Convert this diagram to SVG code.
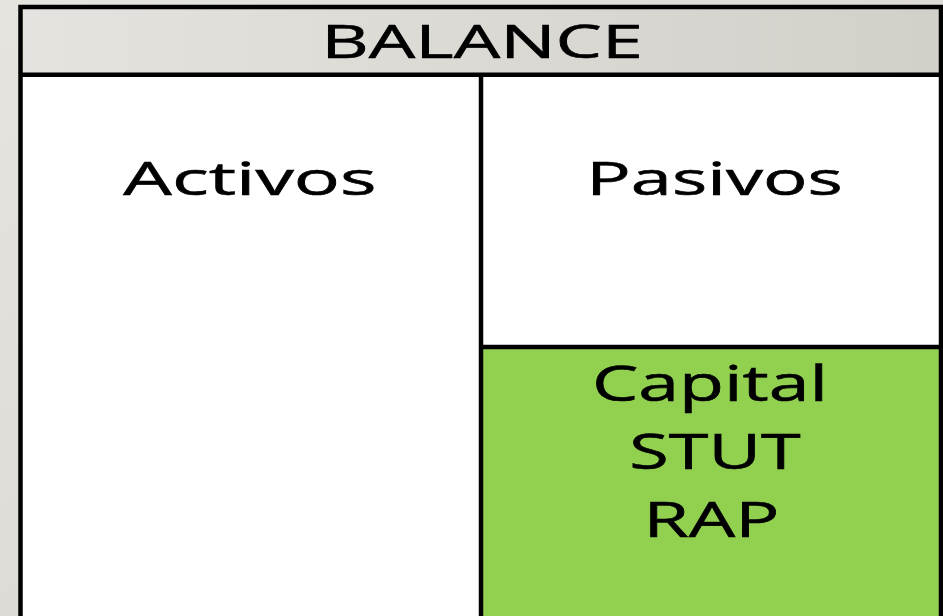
<svg xmlns="http://www.w3.org/2000/svg" width="943" height="616" viewBox="0 0 943 616">
  <defs>
    <linearGradient id="bg" x1="0" y1="0" x2="1" y2="1">
      <stop offset="0" stop-color="#e6e4df"/>
      <stop offset="1" stop-color="#d6d3cd"/>
    </linearGradient>
    <linearGradient id="head" x1="0" y1="0" x2="1" y2="0">
      <stop offset="0" stop-color="#e5e3df"/>
      <stop offset="1" stop-color="#d3d0ca"/>
    </linearGradient>
  </defs>
  <style>
    .grid { fill: none; stroke: #000; stroke-width: 4.5; }
    .lbl { font-family: "Open Sans", "Liberation Sans", sans-serif; fill: #000; stroke: #000; stroke-width: 0.6; text-anchor: middle; }
    .big { font-size: 46px; }
    .cap { font-size: 49px; }
  </style>

  <!-- page background -->
  <rect x="0" y="0" width="943" height="616" fill="url(#bg)"/>

  <!-- title row -->
  <g id="header">
    <rect x="20" y="7" width="921" height="68" fill="url(#head)"/>
    <text class="lbl big" transform="translate(482,58) scale(1.6,1)" x="0" y="0">BALANCE</text>
  </g>

  <!-- assets column -->
  <g id="activos">
    <rect x="20" y="75" width="461" height="545" fill="#fff"/>
    <text class="lbl big" transform="translate(250,195) scale(1.67,1)" x="0" y="0">Activos</text>
  </g>

  <!-- liabilities cell -->
  <g id="pasivos">
    <rect x="481" y="75" width="460" height="272" fill="#fff"/>
    <text class="lbl big" transform="translate(714.5,195) scale(1.61,1)" x="0" y="0">Pasivos</text>
  </g>

  <!-- equity cell -->
  <g id="capital">
    <rect x="481" y="347" width="460" height="273" fill="#92d050"/>
    <text class="lbl cap" transform="translate(710,401) scale(1.5,1)" x="0" y="0">Capital</text>
    <text class="lbl cap" transform="translate(715,469) scale(1.47,1)" x="0" y="0">STUT</text>
    <text class="lbl cap" transform="translate(711.5,537) scale(1.5,1)" x="0" y="0">RAP</text>
  </g>

  <!-- ruling lines of the table -->
  <g id="rules">
    <path class="grid" d="M20.5 620 V7 H941 V620"/>
    <path class="grid" d="M20.5 74.7 H941"/>
    <path class="grid" d="M481 74.7 V620"/>
    <path class="grid" d="M481 347 H941"/>
  </g>
</svg>
